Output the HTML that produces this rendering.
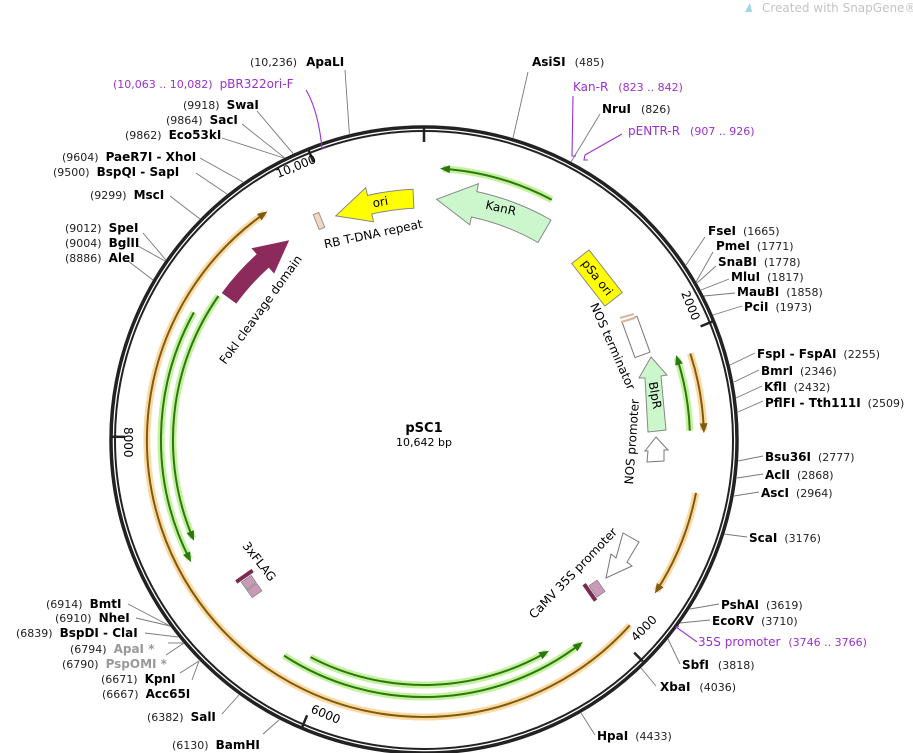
<!DOCTYPE html>
<html><head><meta charset="utf-8"><style>
html,body{margin:0;padding:0;background:#fff;width:913px;height:753px;overflow:hidden}
svg{display:block;font-family:"DejaVu Sans","Liberation Sans",sans-serif}
.b{font-weight:bold;font-size:12px;fill:#000}
.n{font-size:11px;fill:#222}
.p{font-size:12px;fill:#9b30d0}
.pn{font-size:11px;fill:#9b30d0}
.g{font-weight:bold;font-size:12px;fill:#999}
.ld{stroke:#777;stroke-width:0.9;fill:none}
.pl{stroke:#9b30d0;stroke-width:1.1;fill:none}
.gh{stroke:#b8f08c;stroke-width:7;fill:none;opacity:.85}
.gl{stroke:#2f7510;stroke-width:2;fill:none}
.oh{stroke:#fcd596;stroke-width:7;fill:none;opacity:.9}
.ol{stroke:#7d5c12;stroke-width:2;fill:none}
.ft{font-size:12px;fill:#000}
</style></head><body>
<svg width="913" height="753" viewBox="0 0 913 753">
<defs>
<marker id="ag" markerUnits="userSpaceOnUse" markerWidth="10" markerHeight="8" refX="7" refY="4" orient="auto"><path d="M0,0 L10,4 L0,8 Z" fill="#2f7510"/></marker>
<marker id="ao" markerUnits="userSpaceOnUse" markerWidth="10" markerHeight="8" refX="7" refY="4" orient="auto"><path d="M0,0 L10,4 L0,8 Z" fill="#7d5c12"/></marker>
</defs>
<text x="762" y="12" font-size="12" fill="#c4c4c4">Created with SnapGene®</text>
<path d="M745,12 L750,3 L752,12 Z" fill="#9fd6e8"/>

<!-- backbone -->
<circle cx="424" cy="440" r="313" fill="none" stroke="#222" stroke-width="3.5"/>
<circle cx="424" cy="440" r="309" fill="none" stroke="#222" stroke-width="2"/>
<g stroke="#222" stroke-width="2.5">
<line x1="424" y1="127" x2="424" y2="142"/>
<line x1="700.6" y1="326.4" x2="712" y2="321.7"/>
<line x1="634.2" y1="652.6" x2="642.7" y2="661.2"/>
<line x1="307.1" y1="715.3" x2="302.3" y2="726.8"/>
<line x1="125" y1="436.9" x2="112" y2="436.8"/>
<line x1="313.4" y1="162.2" x2="308.8" y2="150.7"/>
</g>
<text font-size="12" transform="translate(278,178) rotate(-22)">10,000</text>
<text font-size="12" transform="translate(681,293) rotate(67.7)">2000</text>
<text font-size="12" transform="translate(636,642) rotate(-45)">4000</text>
<text font-size="12" transform="translate(310,712) rotate(23)">6000</text>
<text font-size="12" transform="translate(124,427) rotate(90)">8000</text>

<!-- arcs -->
<path class="gh" d="M551.7,199.8 A272,272 0 0 0 443,168.7"/>
<path class="gl" d="M551.7,199.8 A272,272 0 0 0 443,168.7" marker-end="url(#ag)"/>
<path class="gh" d="M689.8,430.7 A266,266 0 0 0 677,357.8"/>
<path class="gl" d="M689.8,430.7 A266,266 0 0 0 677,357.8" marker-end="url(#ag)"/>
<path class="oh" d="M690.3,353.5 A280,280 0 0 1 703.8,430.2"/>
<path class="ol" d="M690.3,353.5 A280,280 0 0 1 703.8,430.2" marker-end="url(#ao)"/>
<path class="oh" d="M696,492.9 A277,277 0 0 1 656.4,591"/>
<path class="ol" d="M696,492.9 A277,277 0 0 1 656.4,591" marker-end="url(#ao)"/>
<path class="oh" d="M629.8,625.3 A277,277 0 1 1 265,213.1"/>
<path class="ol" d="M629.8,625.3 A277,277 0 1 1 265,213.1" marker-end="url(#ao)"/>
<path class="gh" d="M193.9,312.4 A263,263 0 0 0 189.7,559.4"/>
<path class="gl" d="M193.9,312.4 A263,263 0 0 0 189.7,559.4" marker-end="url(#ag)"/>
<path class="gh" d="M218.4,296 A251,251 0 0 0 192.9,538.1"/>
<path class="gl" d="M218.4,296 A251,251 0 0 0 192.9,538.1" marker-end="url(#ag)"/>
<path class="gh" d="M284,655.6 A257,257 0 0 0 580.5,643.8"/>
<path class="gl" d="M284,655.6 A257,257 0 0 0 580.5,643.8" marker-end="url(#ag)"/>
<path class="gh" d="M310.5,657.1 A245,245 0 0 0 546.5,652.2"/>
<path class="gl" d="M310.5,657.1 A245,245 0 0 0 546.5,652.2" marker-end="url(#ag)"/>

<!-- features -->
<path d="M551,220 A254,254 0 0 0 476.8,191.6 L478.5,183.7 L436.6,199.3 L469.7,224.8 L471.4,217 A228,228 0 0 1 538,242.5 Z" fill="#ccf7cc" stroke="#888" stroke-width="1"/>
<text class="ft" transform="translate(500,212) rotate(13)" text-anchor="middle">KanR</text>
<path d="M413,189.2 A251,251 0 0 0 367.5,195.5 L365.7,187.7 L335.7,215.9 L373.6,221.8 L371.8,214 A232,232 0 0 1 413.9,208.2 Z" fill="#ffff00" stroke="#888" stroke-width="1"/>
<text class="ft" transform="translate(381,206) rotate(-10)" text-anchor="middle">ori</text>
<rect x="-3" y="-8" width="6" height="16" fill="#f5d6bf" stroke="#999" transform="translate(319,221) rotate(-22)"/>
<text class="ft" transform="translate(374,238) rotate(-12)" text-anchor="middle">RB T-DNA repeat</text>
<path d="M221.8,293 A250,250 0 0 1 256.7,254.2 L251.4,248.3 L289.2,240.2 L274.1,273.6 L268.8,267.6 A232,232 0 0 0 236.3,303.6 Z" fill="#8c2a5c"/>
<text class="ft" transform="translate(264,312) rotate(-54)" text-anchor="middle">FokI cleavage domain</text>
<rect x="-27" y="-11" width="54" height="22" fill="#ffff00" stroke="#888" transform="translate(597,278) rotate(52)"/>
<text class="ft" transform="translate(594,280) rotate(52)" text-anchor="middle" dy="0">pSa ori</text>
<rect x="-19" y="-8" width="38" height="16" fill="#fff" stroke="#777" transform="translate(636,337) rotate(70)"/>
<line x1="620" y1="318" x2="634" y2="314" stroke="#d9b59a" stroke-width="2"/>
<line x1="621" y1="322" x2="635" y2="318" stroke="#d9b59a" stroke-width="2"/>
<text class="ft" transform="translate(609,348) rotate(66)" text-anchor="middle">NOS terminator</text>
<path d="M648,432 L666,430 L661,376 L667,375 L651,357 L639,378 L645,378 Z" fill="#ccf7cc" stroke="#888"/>
<text class="ft" transform="translate(651,396) rotate(80)" text-anchor="middle">BlpR</text>
<path d="M647,462 L664,461 L664,450 L668,450 L656,437 L645,451 L648,451 Z" fill="#fff" stroke="#777"/>
<text class="ft" transform="translate(636,442) rotate(-86)" text-anchor="middle">NOS promoter</text>
<path d="M623,533 L639,542 L627,562 L632,566 L606,578 L611,554 L616,558 Z" fill="#fff" stroke="#777"/>
<text class="ft" transform="translate(576,576) rotate(-46)" text-anchor="middle">CaMV 35S promoter</text>
<g transform="translate(591,594) rotate(-35)"><rect x="-2" y="-12" width="4" height="20" fill="#7a2a50"/><rect x="3" y="-8" width="10" height="14" fill="#c99ab5" stroke="#777" stroke-width=".6"/></g>
<g transform="translate(242,578) rotate(55)"><rect x="-2" y="-13" width="4" height="20" fill="#7a2a50"/><rect x="3" y="-9" width="9" height="12" fill="#c99ab5" stroke="#777" stroke-width=".6"/><rect x="13" y="-9" width="9" height="12" fill="#c99ab5" stroke="#777" stroke-width=".6"/></g>
<text class="ft" transform="translate(256,564) rotate(52)" text-anchor="middle">3xFLAG</text>

<text x="424" y="432" text-anchor="middle" font-size="13" font-weight="bold">pSC1</text>
<text x="424" y="446" text-anchor="middle" font-size="11">10,642 bp</text>

<!-- leaders -->
<g class="ld">
<polyline points="345,70 349.4,133.9"/>
<polyline points="257,111 293,153.4"/>
<polyline points="242,124 284.5,157.7"/>
<polyline points="222,138 284,158"/>
<polyline points="200,158 243,182"/>
<polyline points="196,173 227,194"/>
<polyline points="170,196 200,219"/>
<polyline points="143,233 166,260"/>
<polyline points="138,246 165,261"/>
<polyline points="128,261 153,280"/>
<polyline points="528,72 513,138"/>
<polyline points="600,114 571,162"/>
<polyline points="705,237 686,265"/>
<polyline points="713,252 696,282"/>
<polyline points="716,266 697,283"/>
<polyline points="729,279 701,290"/>
<polyline points="735,293 704,296"/>
<polyline points="742,306 713,315"/>
<polyline points="755,353 730,365"/>
<polyline points="759,370 734,382"/>
<polyline points="762,386 736,398"/>
<polyline points="763,401 738,412"/>
<polyline points="763,456 738,461"/>
<polyline points="763,474 737,478"/>
<polyline points="759,492 734,496"/>
<polyline points="747,537 724,534"/>
<polyline points="719,604 690,609"/>
<polyline points="710,620 680,623"/>
<polyline points="680,664 668,639"/>
<polyline points="656,686 641,668"/>
<polyline points="595,735 581,713"/>
<polyline points="263,734 279,720"/>
<polyline points="222,714 239,695"/>
<polyline points="192,680 199,661"/>
<polyline points="180,673 199,661"/>
<polyline points="166,655 184,643"/>
<polyline points="168,643 184,643"/>
<polyline points="145,633 178,637"/>
<polyline points="136,618 170,626"/>
<polyline points="128,604 170,626"/>
</g>
<g class="pl">
<path d="M306,90 Q318,110 322,148 L326,148"/>
<polyline points="573,96 572,156 576,156"/>
<polyline points="622,134 585,155 584,160 588,160"/>
<polyline points="697,642 676,627 679,626"/>
</g>

<!-- labels -->
<text x="250" y="66"><tspan class="n">(10,236)</tspan><tspan class="b" dx="9">ApaLI</tspan></text>
<text x="113" y="88"><tspan class="pn">(10,063 .. 10,082)</tspan><tspan class="p" dx="7">pBR322ori-F</tspan></text>
<text x="183" y="109"><tspan class="n">(9918)</tspan><tspan class="b" dx="7">SwaI</tspan></text>
<text x="166" y="124"><tspan class="n">(9864)</tspan><tspan class="b" dx="7">SacI</tspan></text>
<text x="125" y="139"><tspan class="n">(9862)</tspan><tspan class="b" dx="7">Eco53kI</tspan></text>
<text x="62" y="161"><tspan class="n">(9604)</tspan><tspan class="b" dx="7">PaeR7I  - XhoI</tspan></text>
<text x="53" y="176"><tspan class="n">(9500)</tspan><tspan class="b" dx="7">BspQI  - SapI</tspan></text>
<text x="90" y="199"><tspan class="n">(9299)</tspan><tspan class="b" dx="7">MscI</tspan></text>
<text x="65" y="232"><tspan class="n">(9012)</tspan><tspan class="b" dx="7">SpeI</tspan></text>
<text x="65" y="247"><tspan class="n">(9004)</tspan><tspan class="b" dx="7">BglII</tspan></text>
<text x="65" y="262"><tspan class="n">(8886)</tspan><tspan class="b" dx="7">AleI</tspan></text>
<text x="532" y="66"><tspan class="b">AsiSI</tspan><tspan class="n" dx="9">(485)</tspan></text>
<text x="573" y="91"><tspan class="p">Kan-R</tspan><tspan class="pn" dx="10">(823 .. 842)</tspan></text>
<text x="602" y="113"><tspan class="b">NruI</tspan><tspan class="n" dx="10">(826)</tspan></text>
<text x="628" y="135"><tspan class="p">pENTR-R</tspan><tspan class="pn" dx="10">(907 .. 926)</tspan></text>
<text x="708" y="235"><tspan class="b">FseI</tspan><tspan class="n" dx="7">(1665)</tspan></text>
<text x="716" y="250"><tspan class="b">PmeI</tspan><tspan class="n" dx="7">(1771)</tspan></text>
<text x="718" y="266"><tspan class="b">SnaBI</tspan><tspan class="n" dx="7">(1778)</tspan></text>
<text x="731" y="281"><tspan class="b">MluI</tspan><tspan class="n" dx="7">(1817)</tspan></text>
<text x="737" y="296"><tspan class="b">MauBI</tspan><tspan class="n" dx="7">(1858)</tspan></text>
<text x="744" y="311"><tspan class="b">PciI</tspan><tspan class="n" dx="7">(1973)</tspan></text>
<text x="757" y="358"><tspan class="b">FspI  - FspAI</tspan><tspan class="n" dx="7">(2255)</tspan></text>
<text x="761" y="375"><tspan class="b">BmrI</tspan><tspan class="n" dx="7">(2346)</tspan></text>
<text x="764" y="391"><tspan class="b">KflI</tspan><tspan class="n" dx="7">(2432)</tspan></text>
<text x="765" y="407"><tspan class="b">PflFI  - Tth111I</tspan><tspan class="n" dx="7">(2509)</tspan></text>
<text x="765" y="461"><tspan class="b">Bsu36I</tspan><tspan class="n" dx="7">(2777)</tspan></text>
<text x="765" y="479"><tspan class="b">AclI</tspan><tspan class="n" dx="7">(2868)</tspan></text>
<text x="761" y="497"><tspan class="b">AscI</tspan><tspan class="n" dx="7">(2964)</tspan></text>
<text x="749" y="542"><tspan class="b">ScaI</tspan><tspan class="n" dx="7">(3176)</tspan></text>
<text x="721" y="609"><tspan class="b">PshAI</tspan><tspan class="n" dx="7">(3619)</tspan></text>
<text x="712" y="625"><tspan class="b">EcoRV</tspan><tspan class="n" dx="7">(3710)</tspan></text>
<text x="698" y="646"><tspan class="p">35S promoter</tspan><tspan class="pn" dx="8">(3746 .. 3766)</tspan></text>
<text x="682" y="669"><tspan class="b">SbfI</tspan><tspan class="n" dx="9">(3818)</tspan></text>
<text x="660" y="691"><tspan class="b">XbaI</tspan><tspan class="n" dx="9">(4036)</tspan></text>
<text x="597" y="740"><tspan class="b">HpaI</tspan><tspan class="n" dx="7">(4433)</tspan></text>
<text x="46" y="608"><tspan class="n">(6914)</tspan><tspan class="b" dx="7">BmtI</tspan></text>
<text x="55" y="622"><tspan class="n">(6910)</tspan><tspan class="b" dx="7">NheI</tspan></text>
<text x="16" y="637"><tspan class="n">(6839)</tspan><tspan class="b" dx="7">BspDI  - ClaI</tspan></text>
<text x="70" y="653"><tspan class="n">(6794)</tspan><tspan class="g" dx="7">ApaI *</tspan></text>
<text x="62" y="668"><tspan class="n">(6790)</tspan><tspan class="g" dx="7">PspOMI *</tspan></text>
<text x="101" y="683"><tspan class="n">(6671)</tspan><tspan class="b" dx="7">KpnI</tspan></text>
<text x="102" y="698"><tspan class="n">(6667)</tspan><tspan class="b" dx="7">Acc65I</tspan></text>
<text x="147" y="721"><tspan class="n">(6382)</tspan><tspan class="b" dx="7">SalI</tspan></text>
<text x="172" y="749"><tspan class="n">(6130)</tspan><tspan class="b" dx="7">BamHI</tspan></text>
</svg>
</body></html>
